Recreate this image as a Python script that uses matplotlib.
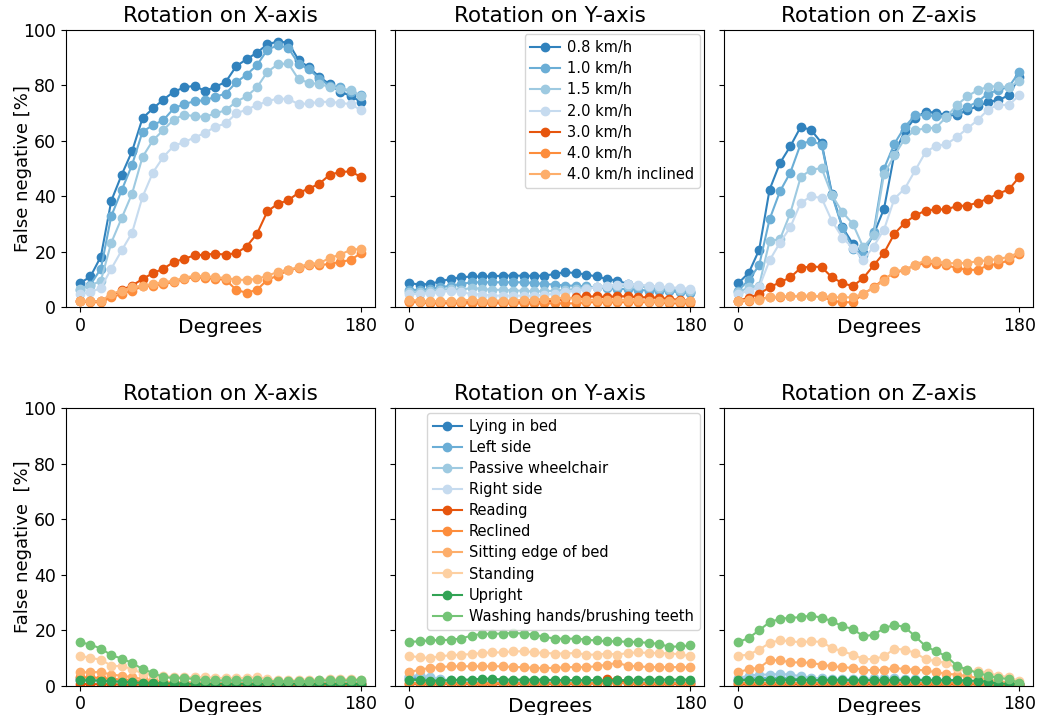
import numpy as np
import matplotlib.pyplot as plt

# walking speeds (top row) and daily activities (bottom row)
speeds = ['0.8 km/h', '1.0 km/h', '1.5 km/h', '2.0 km/h', '3.0 km/h', '4.0 km/h', '4.0 km/h inclined']
activities = ['Lying in bed', 'Left side', 'Passive wheelchair', 'Right side', 'Reading', 'Reclined',
              'Sitting edge of bed', 'Standing', 'Upright', 'Washing hands/brushing teeth']
axis_names = ['X', 'Y', 'Z']

# false negative [%] per rotation step, one row per speed
walk_x = [
    [8.7, 11.1, 18.3, 38.4, 47.8, 56.3, 68.2, 71.7, 74.9, 77.7, 79.3, 79.9, 78.0, 79.5, 81.3, 86.9, 89.5, 91.8, 94.9, 95.8, 95.5, 89.2, 86.5, 83.1, 80.4, 77.7, 76.3, 74.0],
    [6.3, 8.2, 13.9, 32.9, 42.2, 51.4, 63.3, 65.7, 67.5, 71.7, 73.3, 74.3, 74.7, 75.9, 77.1, 81.1, 83.9, 87.3, 92.9, 94.5, 93.6, 87.8, 85.8, 82.5, 79.8, 79.3, 77.7, 76.5],
    [6.6, 7.8, 9.6, 23.3, 32.2, 41.0, 54.2, 60.2, 63.9, 67.7, 69.5, 68.9, 68.7, 69.9, 71.1, 74.1, 76.1, 79.3, 84.9, 87.6, 88.0, 82.2, 81.0, 80.5, 79.5, 78.9, 78.3, 76.1],
    [4.8, 5.4, 7.0, 13.9, 20.5, 26.9, 39.8, 48.6, 54.2, 58.2, 59.6, 61.2, 62.9, 65.1, 66.3, 69.9, 71.3, 72.9, 74.3, 75.3, 75.1, 73.3, 73.5, 74.1, 74.1, 73.7, 73.3, 71.1],
    [2.4, 2.2, 2.2, 4.0, 6.3, 7.8, 10.2, 12.3, 13.9, 16.3, 17.5, 18.7, 19.0, 19.3, 19.0, 19.5, 21.9, 26.5, 34.6, 37.3, 38.6, 41.3, 42.8, 44.6, 47.8, 48.8, 49.0, 47.0],
    [2.2, 1.8, 1.8, 3.6, 4.8, 6.0, 7.5, 7.8, 8.4, 9.0, 10.2, 10.8, 10.6, 10.2, 9.9, 6.3, 5.2, 6.3, 9.9, 11.4, 13.3, 14.2, 15.1, 15.1, 15.7, 16.3, 17.1, 19.5],
    [2.4, 2.2, 2.2, 4.8, 6.0, 7.2, 7.8, 8.4, 9.0, 9.6, 10.6, 11.4, 11.2, 10.8, 10.6, 9.9, 9.9, 10.2, 11.4, 12.7, 13.5, 14.5, 15.7, 15.9, 17.8, 19.0, 20.7, 21.1],
]
walk_y = [
    [8.7, 8.2, 8.4, 9.4, 10.2, 10.8, 11.1, 11.1, 11.2, 11.4, 11.4, 11.4, 11.3, 11.4, 12.0, 12.7, 12.3, 11.8, 11.1, 10.2, 9.6, 8.4, 7.8, 7.2, 6.6, 6.3, 6.0, 5.4],
    [6.3, 6.3, 6.6, 7.2, 7.8, 8.4, 9.0, 9.0, 9.0, 9.0, 9.0, 9.0, 8.7, 8.4, 8.2, 7.8, 7.8, 7.5, 7.2, 6.9, 6.6, 6.6, 6.3, 6.0, 6.0, 5.8, 5.4, 5.1],
    [5.4, 5.4, 6.0, 6.3, 6.6, 6.3, 7.0, 6.6, 6.3, 6.3, 6.0, 6.0, 5.8, 5.8, 6.0, 6.3, 6.6, 7.0, 7.2, 7.5, 7.8, 7.8, 7.5, 7.2, 7.0, 6.6, 6.3, 6.0],
    [4.8, 4.8, 5.1, 5.4, 6.0, 5.4, 4.8, 4.6, 4.2, 4.2, 4.2, 4.2, 4.2, 4.6, 4.8, 5.4, 6.0, 6.6, 7.2, 7.8, 8.2, 8.4, 8.2, 7.8, 7.5, 7.2, 7.0, 6.6],
    [2.2, 2.2, 2.0, 1.8, 1.8, 1.8, 1.8, 1.8, 1.8, 1.8, 1.8, 1.8, 1.8, 2.2, 2.4, 3.0, 3.6, 3.9, 3.9, 3.6, 4.0, 3.9, 3.6, 3.6, 3.4, 3.0, 2.7, 2.2],
    [1.8, 1.8, 1.4, 1.4, 1.4, 1.4, 1.4, 1.4, 1.4, 1.4, 1.4, 1.4, 1.4, 1.4, 1.4, 1.4, 1.4, 1.8, 1.8, 1.8, 1.8, 1.8, 1.8, 1.8, 1.8, 1.4, 1.4, 1.4],
    [2.7, 2.4, 2.2, 2.2, 2.2, 2.4, 2.7, 2.4, 2.4, 2.4, 2.4, 2.7, 2.7, 3.0, 3.0, 3.6, 3.0, 2.7, 2.7, 2.7, 2.7, 2.7, 2.7, 2.4, 2.4, 2.4, 2.4, 2.2],
]
walk_z = [
    [8.7, 12.4, 20.7, 42.4, 52.0, 58.1, 65.1, 63.9, 59.3, 41.0, 28.9, 22.9, 19.5, 26.3, 35.5, 55.4, 63.6, 68.4, 70.5, 70.2, 69.3, 69.3, 71.1, 72.5, 74.1, 74.7, 76.5, 83.1],
    [6.0, 9.9, 15.1, 31.7, 41.8, 48.6, 59.0, 59.9, 58.7, 40.4, 28.7, 21.1, 19.0, 27.1, 50.0, 59.0, 65.1, 69.3, 69.3, 68.9, 68.7, 70.5, 72.3, 74.1, 77.1, 78.3, 79.5, 84.9],
    [5.4, 7.2, 7.8, 23.9, 24.5, 34.0, 47.0, 49.6, 50.2, 40.4, 34.3, 30.1, 21.7, 25.9, 48.0, 54.8, 60.8, 63.9, 64.5, 64.8, 68.7, 72.9, 76.1, 78.3, 79.5, 79.8, 79.3, 81.7],
    [4.8, 6.0, 7.2, 16.9, 23.3, 28.9, 37.7, 40.0, 39.4, 31.1, 25.1, 21.4, 17.1, 21.9, 28.0, 39.2, 42.8, 49.4, 56.0, 58.2, 58.8, 61.4, 64.5, 67.5, 71.3, 73.1, 72.9, 76.5],
    [2.4, 3.4, 4.8, 7.2, 9.0, 10.8, 14.2, 14.7, 14.5, 10.8, 8.7, 7.6, 10.5, 15.1, 19.6, 26.5, 30.5, 33.1, 34.9, 35.3, 35.3, 36.5, 36.7, 37.7, 39.2, 41.0, 42.5, 47.0],
    [2.2, 2.4, 3.0, 3.6, 3.6, 3.9, 4.0, 4.0, 3.9, 2.4, 1.8, 1.8, 4.8, 7.2, 10.2, 12.3, 13.5, 15.1, 15.9, 15.7, 15.1, 14.2, 13.5, 13.5, 15.1, 15.7, 16.9, 19.3],
    [2.4, 2.7, 2.7, 3.6, 3.9, 4.0, 4.2, 4.2, 4.0, 3.6, 3.6, 3.6, 4.8, 7.0, 9.6, 13.0, 13.5, 15.4, 16.9, 16.6, 15.9, 15.9, 16.0, 16.6, 16.9, 17.5, 18.1, 19.9],
]

# false negative [%] per rotation step, one row per activity
act_x = [
    [2.0, 1.8, 1.6, 1.4, 1.2, 1.0, 0.9, 0.8, 0.7, 0.7, 0.6, 0.6, 0.6, 0.6, 0.6, 0.6, 0.6, 0.6, 0.6, 0.6, 0.6, 0.6, 0.6, 0.6, 0.6, 0.6, 0.6, 0.6],
    [2.6, 2.4, 2.2, 1.9, 1.6, 1.4, 1.2, 1.1, 1.0, 1.0, 1.0, 1.0, 1.0, 1.0, 1.0, 1.0, 1.0, 1.0, 1.0, 1.0, 1.0, 1.0, 1.0, 1.0, 1.0, 1.0, 1.0, 1.2],
    [2.8, 2.6, 2.4, 2.2, 1.9, 1.7, 1.5, 1.4, 1.3, 1.2, 1.2, 1.2, 1.2, 1.2, 1.2, 1.2, 1.2, 1.2, 1.2, 1.2, 1.2, 1.2, 1.2, 1.2, 1.2, 1.2, 1.2, 1.4],
    [1.6, 1.5, 1.4, 1.2, 1.0, 0.9, 0.8, 0.8, 0.7, 0.7, 0.7, 0.7, 0.7, 0.7, 0.7, 0.7, 0.7, 0.7, 0.7, 0.7, 0.7, 0.7, 0.7, 0.7, 0.7, 0.7, 0.7, 0.7],
    [0.6, 0.6, 0.5, 0.5, 0.4, 0.4, 0.4, 0.3, 0.3, 0.3, 0.3, 0.3, 0.3, 0.3, 0.3, 0.3, 0.3, 0.3, 0.3, 0.3, 0.3, 0.3, 0.3, 0.3, 0.3, 0.3, 0.3, 0.3],
    [3.0, 3.0, 2.8, 2.5, 2.2, 2.0, 1.6, 1.3, 1.0, 0.8, 0.7, 0.7, 0.6, 0.6, 0.6, 0.6, 0.6, 0.6, 0.6, 0.6, 0.6, 0.6, 0.6, 0.6, 0.6, 0.6, 0.6, 0.6],
    [4.8, 4.9, 4.9, 4.0, 3.6, 3.1, 2.4, 1.9, 1.6, 1.2, 1.2, 1.2, 1.0, 1.0, 1.0, 1.0, 1.0, 1.0, 1.0, 1.0, 1.0, 1.0, 1.0, 1.0, 1.0, 1.0, 1.0, 1.0],
    [10.8, 10.0, 9.4, 7.2, 7.0, 6.1, 4.3, 4.0, 3.6, 3.1, 3.1, 3.1, 3.1, 2.8, 2.8, 2.8, 2.8, 3.1, 2.4, 1.9, 1.9, 2.2, 2.2, 2.2, 2.4, 2.4, 2.4, 2.2],
    [1.9, 1.9, 1.8, 1.6, 1.4, 1.2, 1.0, 1.0, 0.8, 0.8, 0.7, 0.7, 0.7, 0.7, 0.7, 0.7, 0.7, 0.7, 0.7, 0.7, 0.7, 0.7, 0.7, 0.7, 0.7, 0.7, 0.7, 0.7],
    [15.7, 14.8, 13.4, 11.0, 9.8, 8.2, 6.0, 4.6, 3.1, 2.8, 2.8, 2.4, 1.9, 1.9, 1.9, 1.9, 1.9, 1.9, 1.6, 1.6, 1.6, 1.6, 1.6, 1.9, 1.9, 1.9, 1.9, 2.2],
]
act_y = [
    [2.5, 2.3, 2.0, 1.8, 1.6, 1.4, 1.3, 1.2, 1.2, 1.2, 1.2, 1.2, 1.2, 1.2, 1.2, 1.2, 1.2, 1.2, 1.2, 1.2, 1.2, 1.2, 1.2, 1.2, 1.2, 1.2, 1.2, 1.2],
    [3.0, 3.2, 2.5, 2.0, 1.8, 1.6, 1.5, 1.4, 1.4, 1.4, 1.4, 1.4, 1.4, 1.4, 1.4, 1.4, 1.4, 1.4, 1.4, 1.4, 1.4, 1.4, 1.4, 1.4, 1.4, 1.4, 1.4, 1.4],
    [3.5, 3.8, 3.0, 2.4, 2.0, 1.8, 1.7, 1.6, 1.6, 1.6, 1.6, 1.6, 1.6, 1.6, 1.6, 1.6, 1.6, 1.6, 1.6, 1.6, 1.6, 1.6, 1.6, 1.6, 1.6, 1.6, 1.6, 1.6],
    [2.0, 2.0, 1.8, 1.6, 1.4, 1.2, 1.1, 1.0, 1.0, 1.0, 1.0, 1.0, 1.0, 1.0, 1.0, 1.0, 1.0, 1.0, 1.0, 1.0, 1.0, 1.0, 1.0, 1.0, 1.0, 1.0, 1.0, 1.0],
    [0.7, 0.7, 0.7, 0.7, 0.7, 0.7, 0.7, 0.7, 0.7, 0.7, 0.7, 0.7, 0.7, 0.7, 0.7, 0.7, 0.7, 0.7, 0.9, 2.4, 2.2, 0.8, 0.7, 0.7, 0.7, 0.7, 0.7, 0.7],
    [1.0, 1.0, 1.0, 1.0, 1.0, 1.0, 1.0, 1.0, 1.0, 1.0, 1.0, 1.0, 1.0, 1.0, 1.0, 1.0, 1.0, 1.0, 1.0, 1.0, 1.0, 1.0, 1.0, 1.0, 1.0, 1.0, 1.0, 1.0],
    [4.8, 5.8, 6.4, 6.7, 7.0, 7.0, 7.0, 7.0, 7.0, 7.0, 6.7, 6.7, 6.4, 6.4, 6.4, 6.7, 6.7, 6.7, 7.0, 7.6, 8.2, 7.2, 7.0, 6.7, 6.7, 6.7, 6.7, 6.7],
    [10.8, 10.2, 10.0, 10.6, 11.0, 11.2, 11.4, 11.8, 12.0, 12.0, 12.4, 12.4, 12.0, 11.8, 11.6, 11.6, 11.8, 11.2, 11.2, 11.6, 11.2, 11.8, 12.0, 11.8, 11.8, 11.6, 11.4, 10.6],
    [2.2, 2.0, 1.8, 1.8, 2.0, 2.2, 2.2, 2.5, 2.5, 2.2, 2.2, 2.2, 2.2, 2.2, 2.0, 2.0, 2.0, 2.0, 2.0, 1.8, 2.0, 2.0, 2.2, 2.2, 2.2, 2.2, 2.2, 2.2],
    [15.8, 16.0, 16.4, 16.4, 16.6, 17.0, 18.1, 18.7, 18.7, 18.8, 19.0, 18.8, 18.4, 17.6, 17.0, 16.9, 17.0, 16.6, 16.3, 16.0, 16.0, 15.8, 15.8, 15.4, 15.1, 14.0, 14.2, 14.5],
]
act_z = [
    [1.8, 1.8, 1.8, 1.8, 1.8, 1.8, 1.6, 1.6, 1.6, 1.6, 1.6, 1.6, 1.6, 1.6, 1.6, 1.6, 1.6, 1.6, 1.6, 1.6, 1.4, 1.4, 1.2, 1.2, 1.0, 0.8, 0.6, 0.5],
    [2.2, 2.6, 2.8, 2.8, 2.8, 2.6, 2.4, 2.2, 2.0, 2.0, 2.0, 2.0, 2.0, 2.0, 2.2, 2.4, 2.2, 2.0, 2.0, 2.0, 1.8, 1.6, 1.4, 1.2, 1.0, 0.8, 0.6, 0.5],
    [2.8, 3.6, 4.0, 4.0, 4.2, 4.0, 3.4, 2.8, 2.6, 2.4, 2.4, 2.4, 2.4, 2.6, 2.6, 2.6, 2.4, 2.4, 2.2, 2.2, 2.2, 2.0, 1.8, 1.6, 1.4, 1.0, 0.8, 0.6],
    [1.4, 1.4, 1.4, 1.4, 1.4, 1.4, 1.2, 1.2, 1.2, 1.2, 1.2, 1.2, 1.2, 1.2, 1.2, 1.2, 1.2, 1.2, 1.2, 1.2, 1.0, 1.0, 1.0, 0.8, 0.8, 0.6, 0.5, 0.4],
    [0.5, 0.5, 0.5, 0.5, 0.5, 0.5, 0.5, 0.5, 0.5, 0.5, 0.5, 0.5, 0.5, 0.5, 0.5, 0.5, 0.5, 0.5, 0.5, 0.5, 0.5, 0.5, 0.5, 0.5, 0.4, 0.3, 0.3, 0.3],
    [1.0, 1.0, 1.0, 1.0, 1.0, 1.0, 1.0, 1.0, 1.0, 1.0, 1.0, 1.0, 1.0, 1.0, 1.0, 1.0, 1.0, 1.0, 1.0, 1.0, 1.0, 1.0, 0.9, 0.8, 0.7, 0.6, 0.5, 0.4],
    [4.8, 6.0, 6.4, 9.2, 9.2, 8.4, 8.4, 8.2, 7.6, 7.0, 6.7, 6.4, 5.8, 5.5, 5.8, 6.4, 6.0, 5.8, 5.5, 4.8, 4.3, 4.0, 3.4, 2.8, 2.2, 1.6, 1.2, 0.7],
    [10.8, 11.2, 13.0, 15.4, 16.4, 16.0, 15.7, 16.0, 15.8, 13.6, 12.4, 11.2, 9.6, 9.6, 10.6, 13.3, 13.0, 11.8, 9.6, 8.8, 8.2, 6.4, 5.5, 5.2, 4.6, 3.6, 3.1, 1.6],
    [2.0, 2.0, 2.0, 2.2, 2.2, 2.2, 2.2, 2.0, 2.0, 2.0, 2.0, 2.0, 2.0, 2.0, 2.0, 2.0, 2.0, 2.0, 2.0, 2.0, 2.0, 2.0, 1.8, 1.8, 1.4, 0.7, 0.7, 0.7],
    [15.7, 17.2, 20.0, 22.9, 24.1, 24.5, 24.7, 25.3, 24.5, 23.3, 21.4, 20.5, 17.8, 18.4, 20.7, 22.0, 21.1, 17.8, 14.2, 12.4, 10.6, 7.2, 5.8, 4.6, 3.6, 2.8, 2.4, 1.0],
]

cmap = plt.get_cmap('tab20c')

fig, axes = plt.subplots(2, 3, figsize=(10.48, 7.15), dpi=100, sharey='row')
fig.subplots_adjust(left=0.063, right=0.986, top=0.958, bottom=0.041, wspace=0.065, hspace=0.365)

rows = [(speeds, [walk_x, walk_y, walk_z], 'False negative [%]'),
        (activities, [act_x, act_y, act_z], 'False negative  [%]')]

for r, (labels, panels, ylab) in enumerate(rows):
    for c, data in enumerate(panels):
        ax = axes[r, c]
        for i, vals in enumerate(data):
            steps = np.arange(len(vals))
            ax.plot(steps, vals, marker='o', markersize=6, linewidth=1.5,
                    color=cmap(i), label=labels[i])
        n = len(data[0])
        ax.set_xticks([0, n - 1])
        ax.set_xticklabels(['0', '180'])
        ax.set_ylim(0, 100)
        ax.set_yticks([0, 20, 40, 60, 80, 100])
        ax.tick_params(labelsize=12.5)
        ax.set_title(f'Rotation on {axis_names[c]}-axis', fontsize=15.5)
        ax.set_xlabel('Degrees', fontsize=14.5, labelpad=-12)
        if c == 0:
            ax.set_ylabel(ylab, fontsize=13, labelpad=-6)
    axes[r, 1].legend(loc='upper right', fontsize=10.5, handlelength=2.0,
                      handletextpad=0.5, borderaxespad=0.3, labelspacing=0.42)

plt.savefig('out.png', dpi=100)
